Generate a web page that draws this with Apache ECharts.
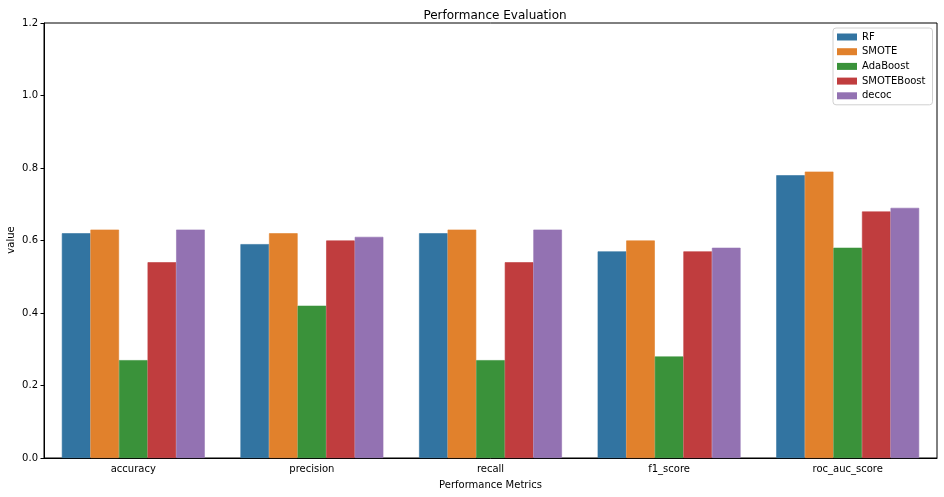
<!DOCTYPE html>
<html><head><meta charset="utf-8">
<script src="https://cdn.jsdelivr.net/npm/echarts@6/dist/echarts.min.js"></script>
<style>html,body{margin:0;padding:0;background:#fff}#c{width:944px;height:497px}</style>
</head><body><div id="c"></div>
<script>
const categories = ['accuracy', 'precision', 'recall', 'f1_score', 'roc_auc_score'];
const seriesNames = ['RF', 'SMOTE', 'AdaBoost', 'SMOTEBoost', 'decoc'];
const RF = [0.62, 0.59, 0.62, 0.57, 0.78];
const SMOTE = [0.63, 0.62, 0.63, 0.60, 0.79];
const AdaBoost = [0.27, 0.42, 0.27, 0.28, 0.58];
const SMOTEBoost = [0.54, 0.60, 0.54, 0.57, 0.68];
const decoc = [0.63, 0.61, 0.63, 0.58, 0.69];
const colors = ['#3274a1', '#e1812c', '#3a923a', '#c03d3e', '#9372b2'];
const values = [RF, SMOTE, AdaBoost, SMOTEBoost, decoc];
const yAxisTitle = 'value';

const font = 'DejaVu Sans';
const chart = echarts.init(document.getElementById('c'), null, {renderer: 'canvas'});
chart.setOption({
  animation: false,
  color: colors,
  title: {text: 'Performance Evaluation', left: 490, top: 5, textAlign: 'center',
    textStyle: {fontFamily: font, fontSize: 12, fontWeight: 'normal', color: '#000'}},
  graphic: [{
    type: 'text', x: 11, y: 240, rotation: Math.PI / 2,
    style: {text: yAxisTitle, align: 'center', verticalAlign: 'middle',
      font: '10px "DejaVu Sans"', fill: '#000'}
  }],
  legend: {
    orient: 'vertical', left: 833, top: 28, itemWidth: 20, itemHeight: 7, itemGap: 2.7,
    itemStyle: {borderWidth: 0},
    padding: [3, 7, 3, 4], borderColor: '#d0d0d0', borderWidth: 1, borderRadius: 3,
    backgroundColor: '#fff', icon: 'rect',
    textStyle: {fontFamily: font, fontSize: 10, color: '#000', lineHeight: 12},
    data: seriesNames
  },
  grid: {left: 44, right: 7, top: 23, bottom: 39, containLabel: false, outerBoundsMode: 'none',
    show: true, borderColor: '#000', borderWidth: 1, backgroundColor: 'transparent'},
  xAxis: {
    type: 'category', data: categories,
    name: 'Performance Metrics', nameLocation: 'middle', nameGap: 22,
    nameTextStyle: {fontFamily: font, fontSize: 10, color: '#000'},
    axisLine: {lineStyle: {color: '#000'}},
    axisTick: {alignWithLabel: true, length: 3.5, lineStyle: {color: '#000'}},
    axisLabel: {fontFamily: font, fontSize: 10, color: '#000', margin: 6},
    splitLine: {show: false}
  },
  yAxis: {
    type: 'value', min: 0, max: 1.2, interval: 0.2,
    axisLine: {show: true, lineStyle: {color: '#000'}},
    axisTick: {show: true, length: 3.5, lineStyle: {color: '#000'}},
    axisLabel: {fontFamily: font, fontSize: 10, color: '#000', margin: 6,
      formatter: v => v.toFixed(1)},
    splitLine: {show: false}
  },
  series: seriesNames.map((n, i) => ({
    name: n, type: 'bar', data: values[i], barGap: '0%', barCategoryGap: '20%',
    itemStyle: {color: colors[i], borderColor: colors[i], borderWidth: 0.6}
  }))
});
</script></body></html>
